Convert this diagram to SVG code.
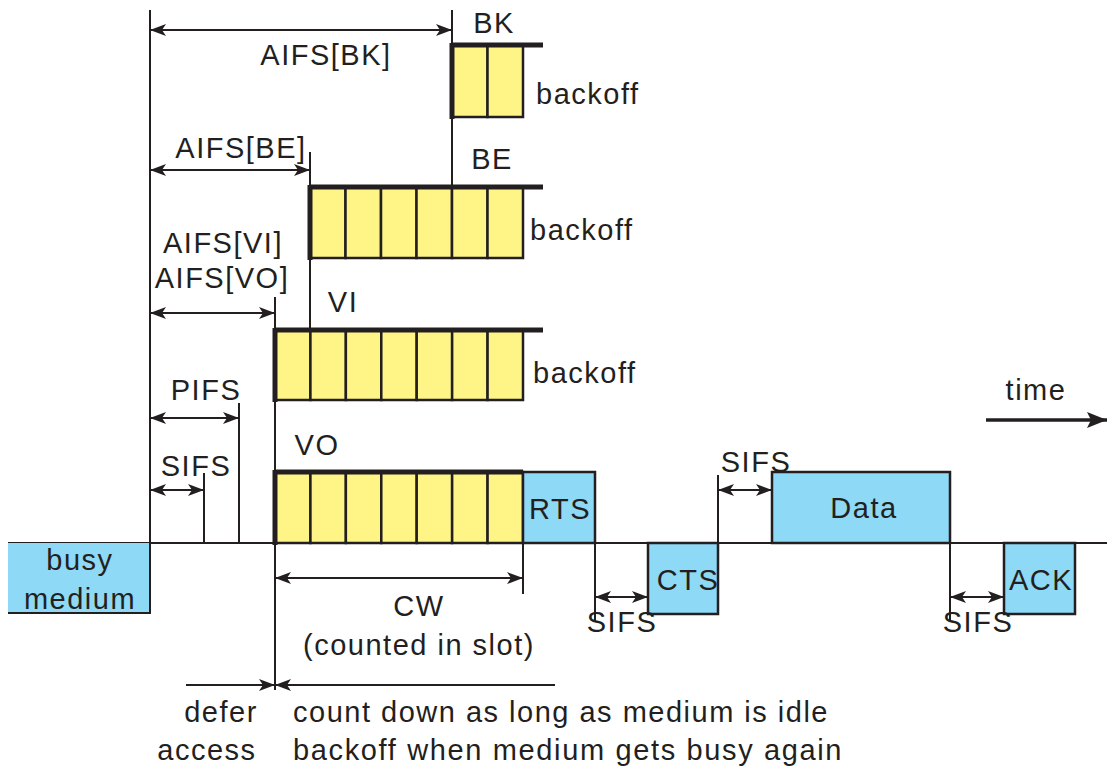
<svg xmlns="http://www.w3.org/2000/svg" width="1107" height="769" viewBox="0 0 1107 769">
  <defs>
    <marker id="head" viewBox="0 0 16 12" refX="16" refY="6" markerWidth="16" markerHeight="12" markerUnits="userSpaceOnUse" orient="auto-start-reverse">
      <path d="M0,0 L16,6 L0,12 L4,6 z" fill="#231f20"/>
    </marker>
    <marker id="bighead" viewBox="0 0 20 16" refX="20" refY="8" markerWidth="22" markerHeight="16" markerUnits="userSpaceOnUse" orient="auto">
      <path d="M0,0 L20,8 L0,16 L4,8 z" fill="#231f20"/>
    </marker>
    <style>
      text { font-family: "Liberation Sans", Arial, sans-serif; font-size: 29px; letter-spacing: 1.5px; fill: #231f20; }
      .mid { text-anchor: middle; }
      .ln { stroke: #231f20; stroke-width: 2; fill: none; }
      .dim { stroke: #231f20; stroke-width: 2; fill: none; marker-start: url(#head); marker-end: url(#head); }
      .one { stroke: #231f20; stroke-width: 2; fill: none; marker-end: url(#head); }
      .slot { fill: #fff587; stroke: #231f20; stroke-width: 2.5; }
      .frame { fill: #8ed9f6; stroke: #231f20; stroke-width: 2.5; }
      .bar { stroke: #231f20; stroke-width: 5; fill: none; }
    </style>
  </defs>
  <rect width="1107" height="769" fill="#ffffff"/>

  <!-- time axis and reference lines -->
  <g id="connectors">
    <line class="ln" x1="8" y1="543" x2="1107" y2="543"/>
    <line class="ln" x1="150" y1="10" x2="150" y2="543"/>
    <line class="ln" x1="452" y1="10" x2="452" y2="187"/>
    <line class="ln" x1="310" y1="152" x2="310" y2="330"/>
    <line class="ln" x1="275" y1="297" x2="275" y2="690"/>
    <line class="ln" x1="239" y1="403" x2="239" y2="543"/>
    <line class="ln" x1="204" y1="473" x2="204" y2="543"/>
    <line class="ln" x1="523" y1="543" x2="523" y2="594"/>
    <line class="ln" x1="595" y1="543" x2="595" y2="622"/>
    <line class="ln" x1="718" y1="475" x2="718" y2="543"/>
    <line class="ln" x1="950" y1="543" x2="950" y2="622"/>

    <!-- interval dimensions -->
    <line class="dim" x1="150" y1="30" x2="452" y2="30"/>
    <line class="dim" x1="150" y1="170" x2="310" y2="170"/>
    <line class="dim" x1="150" y1="313" x2="275" y2="313"/>
    <line class="dim" x1="150" y1="418" x2="239" y2="418"/>
    <line class="dim" x1="150" y1="490" x2="204" y2="490"/>
    <line class="dim" x1="275" y1="578" x2="523" y2="578"/>
    <line class="dim" x1="595" y1="597" x2="648" y2="597"/>
    <line class="dim" x1="718" y1="490" x2="772" y2="490"/>
    <line class="dim" x1="950" y1="597" x2="1004" y2="597"/>

    <!-- defer / count-down markers -->
    <line class="one" x1="186" y1="685" x2="275" y2="685"/>
    <line class="one" x1="555" y1="685" x2="275" y2="685"/>

    <!-- time direction -->
    <line x1="986" y1="420" x2="1107" y2="420" stroke="#231f20" stroke-width="3.5" marker-end="url(#bighead)"/>
  </g>

  <g id="busy">
    <rect x="8" y="543" width="142" height="70" fill="#8ed9f6"/>
    <polyline class="ln" points="150,543 150,613 8,613" stroke-width="2.5"/>
    <text class="mid" x="80" y="570">busy</text>
    <text class="mid" x="80" y="609">medium</text>
  </g>

  <g id="bk">
    <rect class="slot" x="452" y="45" width="35.5" height="72"/>
    <rect class="slot" x="487.5" y="45" width="35.5" height="72"/>
    <line class="bar" x1="452" y1="45" x2="543" y2="45"/>
    <line class="bar" x1="452" y1="43" x2="452" y2="119"/>
    <text class="mid" x="494" y="33">BK</text>
    <text x="536" y="104">backoff</text>
  </g>

  <g id="be">
    <rect class="slot" x="310" y="187" width="35.5" height="71"/>
    <rect class="slot" x="345.5" y="187" width="35.5" height="71"/>
    <rect class="slot" x="381" y="187" width="35.5" height="71"/>
    <rect class="slot" x="416.5" y="187" width="35.5" height="71"/>
    <rect class="slot" x="452" y="187" width="35.5" height="71"/>
    <rect class="slot" x="487.5" y="187" width="35.5" height="71"/>
    <line class="bar" x1="310" y1="187" x2="543" y2="187"/>
    <line class="bar" x1="310" y1="185" x2="310" y2="260"/>
    <text class="mid" x="492" y="169">BE</text>
    <text x="530" y="240">backoff</text>
  </g>

  <g id="vi">
    <rect class="slot" x="275" y="330" width="35.43" height="70"/>
    <rect class="slot" x="310.43" y="330" width="35.43" height="70"/>
    <rect class="slot" x="345.86" y="330" width="35.43" height="70"/>
    <rect class="slot" x="381.29" y="330" width="35.43" height="70"/>
    <rect class="slot" x="416.71" y="330" width="35.43" height="70"/>
    <rect class="slot" x="452.14" y="330" width="35.43" height="70"/>
    <rect class="slot" x="487.57" y="330" width="35.43" height="70"/>
    <line class="bar" x1="275" y1="330" x2="543" y2="330"/>
    <line class="bar" x1="275" y1="328" x2="275" y2="402"/>
    <text class="mid" x="343" y="312">VI</text>
    <text x="533" y="383">backoff</text>
  </g>

  <g id="vo">
    <rect class="slot" x="275" y="472" width="35.43" height="71"/>
    <rect class="slot" x="310.43" y="472" width="35.43" height="71"/>
    <rect class="slot" x="345.86" y="472" width="35.43" height="71"/>
    <rect class="slot" x="381.29" y="472" width="35.43" height="71"/>
    <rect class="slot" x="416.71" y="472" width="35.43" height="71"/>
    <rect class="slot" x="452.14" y="472" width="35.43" height="71"/>
    <rect class="slot" x="487.57" y="472" width="35.43" height="71"/>
    <line class="bar" x1="275" y1="472" x2="523" y2="472"/>
    <line class="bar" x1="275" y1="470" x2="275" y2="545"/>
    <text class="mid" x="317" y="455">VO</text>
  </g>

  <g id="rts">
    <rect class="frame" x="523" y="472" width="72" height="71"/>
    <text class="mid" x="560" y="519">RTS</text>
  </g>

  <g id="cts">
    <rect class="frame" x="648" y="543" width="70" height="71"/>
    <text class="mid" x="688" y="590">CTS</text>
  </g>

  <g id="data">
    <rect class="frame" x="772" y="472" width="178" height="71"/>
    <text class="mid" x="864" y="518">Data</text>
  </g>

  <g id="ack">
    <rect class="frame" x="1004" y="543" width="71" height="71"/>
    <text class="mid" x="1041" y="590">ACK</text>
  </g>

  <!-- interval labels -->
  <g id="labels">
    <text class="mid" x="326" y="65">AIFS[BK]</text>
    <text class="mid" x="241" y="158">AIFS[BE]</text>
    <text class="mid" x="223" y="253">AIFS[VI]</text>
    <text class="mid" x="222" y="288">AIFS[VO]</text>
    <text class="mid" x="206" y="400">PIFS</text>
    <text class="mid" x="196" y="476">SIFS</text>
    <text class="mid" x="756" y="472">SIFS</text>
    <text class="mid" x="622" y="632">SIFS</text>
    <text class="mid" x="978" y="632">SIFS</text>
    <text class="mid" x="419" y="616">CW</text>
    <text class="mid" x="419" y="655">(counted in slot)</text>
    <text class="mid" x="1036" y="400">time</text>
    <text class="mid" x="221" y="722">defer</text>
    <text class="mid" x="207" y="760">access</text>
    <text x="293" y="722">count down as long as medium is idle</text>
    <text x="293" y="760" textLength="550">backoff when medium gets busy again</text>
  </g>
</svg>
